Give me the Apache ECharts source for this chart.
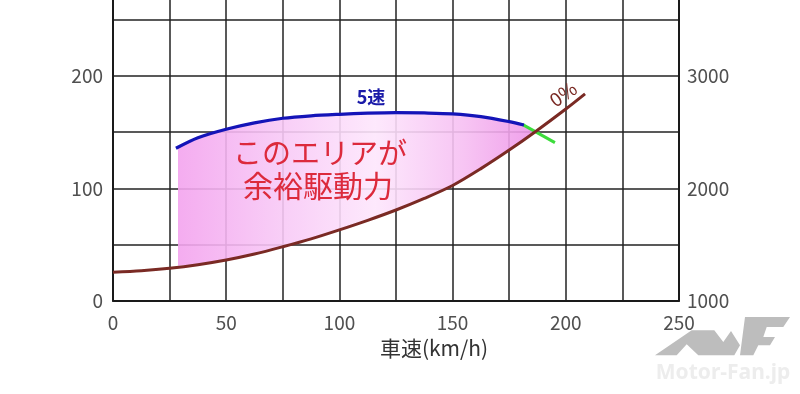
<!DOCTYPE html>
<html>
<head>
<meta charset="utf-8">
<script src="https://cdn.jsdelivr.net/npm/echarts@6/dist/echarts.min.js"></script>
<style>
html,body{margin:0;padding:0;background:#fff;}
#chart{width:800px;height:394px;}
</style>
</head>
<body>
<div id="chart"></div>
<script>
// ---- data ----
// 0% grade running resistance (brown)
const loadSpeed = [0, 12.5, 25, 37.5, 50, 62.5, 75, 87.5, 100, 112.5, 125, 137.5, 150, 162.5, 175, 187, 200, 208.5];
const loadForce = [25.3, 26.6, 28.8, 32.0, 36.2, 41.5, 48, 55, 63, 71.5, 80.7, 91, 102.5, 117.5, 134, 151, 170.5, 184];
// 5th gear driving force (blue)
const gearSpeed = [27.8, 37.5, 50, 62.5, 75, 87.5, 100, 112.5, 125, 137.5, 150, 162.5, 175, 181.5];
const gearForce = [135.6, 145, 152.5, 158.2, 162.3, 164.5, 165.8, 166.8, 167.3, 167, 166.2, 163.8, 159.3, 156.3];
// green continuation across the crossing point
const crossSpeed = [181, 195.2];
const crossForce = [156.6, 140.6];
// surplus-drive-force area (pink)
const areaSpeed = [28.7, 37.5, 50, 62.5, 75, 87.5, 100, 112.5, 125, 137.5, 150, 162.5, 175, 181.5, 187];
const areaUpper = [135.8, 145, 152.5, 158.2, 162.3, 164.5, 165.8, 166.8, 167.3, 167, 166.2, 163.8, 159.3, 156.3, 151];
const areaLower = [31, 32.2, 36.2, 41.5, 48, 55, 63, 71.5, 80.7, 91, 102.5, 117.5, 134, 142.5, 151];
// axes
const xTicks = [0, 50, 100, 150, 200, 250];
const yLeftTicks = [0, 100, 200];
const yRightTicks = [1000, 2000, 3000];
const xName = '車速(km/h)';
const labelGear = '5速';
const labelLoad = '0%';
const areaText1 = 'このエリアが';
const areaText2 = '余裕駆動力';

const FONT = '"Noto Sans CJK JP","Noto Sans",sans-serif';
const chart = echarts.init(document.getElementById('chart'), null, {renderer: 'canvas'});

const zip = (a, b) => a.map((v, i) => [v, b[i]]);

const option = {
  backgroundColor: '#ffffff',
  animation: false,
  grid: {left: 113, right: 121, top: 0, bottom: 93.3, containLabel: false},
  xAxis: {
    type: 'value', min: 0, max: 250, interval: 25,
    axisLine: {show: true, lineStyle: {color: '#1a1a1a', width: 2}},
    axisTick: {show: false},
    splitLine: {show: true, lineStyle: {color: '#222', width: 1.5}},
    axisLabel: {
      margin: 13, color: '#505050', fontSize: 19, fontFamily: FONT,
      formatter: v => xTicks.indexOf(v) >= 0 ? String(v) : ''
    },
    name: xName, nameLocation: 'middle', nameGap: 37,
    nameTextStyle: {color: '#333', fontSize: 21, fontFamily: FONT, padding: [0, 0, 0, 76]}
  },
  yAxis: [{
    type: 'value', min: 0, max: 267.5, interval: 50,
    axisLine: {show: true, lineStyle: {color: '#1a1a1a', width: 2}},
    axisTick: {show: false},
    splitLine: {show: true, showMaxLine: false, lineStyle: {color: '#222', width: 1.5}},
    axisLabel: {
      margin: 10, color: '#505050', fontSize: 19, fontFamily: FONT,
      formatter: v => yLeftTicks.indexOf(v) >= 0 ? String(v) : ''
    }
  }, {
    type: 'value', position: 'right', min: 1000, max: 3675, interval: 500,
    axisLine: {show: true, lineStyle: {color: '#1a1a1a', width: 2}},
    axisTick: {show: false},
    splitLine: {show: false},
    axisLabel: {
      margin: 8, color: '#505050', fontSize: 19, fontFamily: FONT,
      formatter: v => yRightTicks.indexOf(v) >= 0 ? String(v) : ''
    }
  }],
  series: [
    {
      type: 'custom', z: 1, clip: true,
      data: [0],
      renderItem: function (params, api) {
        const pts = [];
        for (let i = 0; i < areaSpeed.length; i++) pts.push(api.coord([areaSpeed[i], areaUpper[i]]));
        for (let i = areaSpeed.length - 1; i >= 0; i--) pts.push(api.coord([areaSpeed[i], areaLower[i]]));
        const x0 = api.coord([areaSpeed[0], 0])[0];
        const x1 = api.coord([areaSpeed[areaSpeed.length - 1], 0])[0];
        const grad = new echarts.graphic.LinearGradient(x0, 0, x1, 0, [
          {offset: 0, color: 'rgb(243,163,238)'},
          {offset: 0.25, color: 'rgb(247,196,245)'},
          {offset: 0.55, color: 'rgb(253,230,252)'},
          {offset: 0.8, color: 'rgb(246,190,242)'},
          {offset: 1, color: 'rgb(238,148,232)'}
        ], true);
        return {type: 'polygon', shape: {points: pts}, style: {fill: grad, opacity: 0.9}};
      }
    },
    {
      type: 'line', z: 3, data: zip(loadSpeed, loadForce), smooth: 0.3, showSymbol: false,
      lineStyle: {color: '#7a2a24', width: 3}
    },
    {
      type: 'line', z: 3, data: zip(gearSpeed, gearForce), smooth: 0.3, showSymbol: false,
      lineStyle: {color: '#1414b8', width: 3.2}
    },
    {
      type: 'line', z: 2, data: zip(crossSpeed, crossForce), showSymbol: false,
      lineStyle: {color: '#3cdc3c', width: 3}
    }
  ],
  graphic: [
    {type: 'text', x: 320, y: 153, z: 10,
      style: {text: areaText1, fill: '#dc2a3c', font: '29px ' + FONT, textAlign: 'center', textVerticalAlign: 'middle'}},
    {type: 'text', x: 318, y: 186, z: 10,
      style: {text: areaText2, fill: '#dc2a3c', font: '30px ' + FONT, textAlign: 'center', textVerticalAlign: 'middle'}},
    {type: 'text', x: 371, y: 97, z: 10,
      style: {text: labelGear, fill: '#1a1aa8', font: 'bold 18px ' + FONT, textAlign: 'center', textVerticalAlign: 'middle'}},
    {type: 'text', x: 563, y: 94, rotation: 0.6, z: 10,
      style: {text: labelLoad, fill: '#7a2a24', font: '19px ' + FONT, textAlign: 'center', textVerticalAlign: 'middle'}},
    // watermark
    {type: 'polygon', z: 20, silent: true,
      shape: {points: [[655,355.3],[691.7,330.3],[714.3,330.3],[723.3,342],[731,331],[740,345.3],[734.3,355.3],[698.3,355.3],[686.7,344.3],[676.7,355.3]]},
      style: {fill: '#bdbdbd'}},
    {type: 'polygon', z: 20, silent: true,
      shape: {points: [[745,317],[790,317],[783.3,327],[766.7,327],[763.3,337],[775,337],[770,345.3],[758.3,345.3],[753.3,355.3],[740,355.3]]},
      style: {fill: '#bdbdbd'}},
    {type: 'text', x: 723, y: 373, z: 20, silent: true,
      style: {text: 'Motor-Fan.jp', fill: '#ededed', font: 'bold 21px "Noto Sans",sans-serif', textAlign: 'center', textVerticalAlign: 'middle'}}
  ]
};
chart.setOption(option);
</script>
</body>
</html>
